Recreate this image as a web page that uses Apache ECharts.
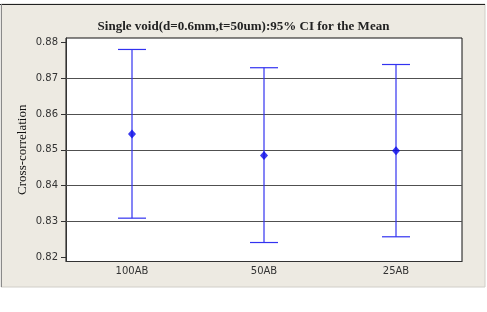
<!DOCTYPE html>
<html>
<head>
<meta charset="utf-8">
<style>html,body{margin:0;padding:0;background:#fff;}#c{width:487px;height:312px;}</style>
<script src="https://cdn.jsdelivr.net/npm/echarts@6/dist/echarts.min.js"></script>
</head>
<body>
<div id="c"></div>
<script>
const categories = ['100AB', '50AB', '25AB'];
const means = [0.8544, 0.8484, 0.8497];
const upperCI = [0.8780, 0.8729, 0.8738];
const lowerCI = [0.8309, 0.8241, 0.8257];
const yTickValues = [0.82, 0.83, 0.84, 0.85, 0.86, 0.87, 0.88];
const gridValues = [0.83, 0.84, 0.85, 0.86, 0.87];
const titleText = 'Single void(d=0.6mm,t=50um):95% CI for the Mean';
const yTitle = 'Cross-correlation';

const chart = echarts.init(document.getElementById('c'), null, {renderer: 'canvas'});
const ciData = categories.map((c, i) => [i, lowerCI[i], upperCI[i]]);
const meanData = categories.map((c, i) => [i, means[i]]);

chart.setOption({
  animation: false,
  backgroundColor: '#ffffff',
  graphic: [
    {type: 'rect', z: -10, shape: {x: 1, y: 4, width: 484, height: 283},
     style: {fill: '#EDEAE2', stroke: '#d0cec8', lineWidth: 1}},
    {type: 'line', z: -9, shape: {x1: 0, y1: 4.5, x2: 485, y2: 4.5}, style: {stroke: '#222', lineWidth: 1.2}},
    {type: 'line', z: -9, shape: {x1: 1.5, y1: 4, x2: 1.5, y2: 287}, style: {stroke: '#8a8a8a', lineWidth: 1}}
  ],
  title: {
    text: titleText, left: 'center', top: 15,
    textStyle: {fontFamily: 'Liberation Serif', fontWeight: 'bold', fontSize: 13, color: '#222'}
  },
  grid: {left: 66, top: 38, width: 396, height: 223.5, show: true, backgroundColor: '#fff', borderColor: '#111', borderWidth: 1},
  xAxis: {
    type: 'category', data: categories, boundaryGap: true,
    axisLine: {lineStyle: {color: '#333', width: 1}},
    axisTick: {alignWithLabel: true, length: 3, lineStyle: {color: '#333'}},
    axisLabel: {fontFamily: 'DejaVu Sans', fontSize: 10, color: '#333', margin: 5},
    splitLine: {show: false}
  },
  yAxis: {
    type: 'value', min: 0.8188, max: 0.8812,
    name: yTitle, nameLocation: 'middle', nameGap: 37, nameMoveOverlap: false,
    nameTextStyle: {fontFamily: 'Liberation Serif', fontSize: 13, color: '#111'},
    axisLine: {show: true, lineStyle: {color: '#333', width: 1}},
    axisTick: {show: true, length: 5, customValues: yTickValues, lineStyle: {color: '#333'}},
    axisLabel: {fontFamily: 'DejaVu Sans', fontSize: 10, color: '#333', margin: 8, customValues: yTickValues,
      formatter: v => v.toFixed(2)},
    splitLine: {show: false}
  },
  series: [
    {
      type: 'custom', data: ciData, encode: {x: 0, y: [1, 2]}, z: 3,
      renderItem: function (params, api) {
        const lo = api.coord([api.value(0), api.value(1)]);
        const hi = api.coord([api.value(0), api.value(2)]);
        const hw = 14;
        const st = {stroke: '#3232f0', lineWidth: 1.2};
        return {type: 'group', children: [
          {type: 'line', shape: {x1: lo[0], y1: lo[1], x2: hi[0], y2: hi[1]}, style: st},
          {type: 'line', shape: {x1: lo[0] - hw, y1: lo[1], x2: lo[0] + hw, y2: lo[1]}, style: st},
          {type: 'line', shape: {x1: hi[0] - hw, y1: hi[1], x2: hi[0] + hw, y2: hi[1]}, style: st}
        ]};
      }
    },
    {
      type: 'scatter', data: meanData, symbol: 'diamond', symbolSize: [8, 9], z: 4,
      itemStyle: {color: '#0a0ae8'},
      markLine: {
        silent: true, symbol: 'none', z: 1, animation: false,
        label: {show: false},
        lineStyle: {color: '#505050', width: 1.2, type: 'solid'},
        data: gridValues.map(v => ({yAxis: v}))
      }
    }
  ]
});
</script>
</body>
</html>
